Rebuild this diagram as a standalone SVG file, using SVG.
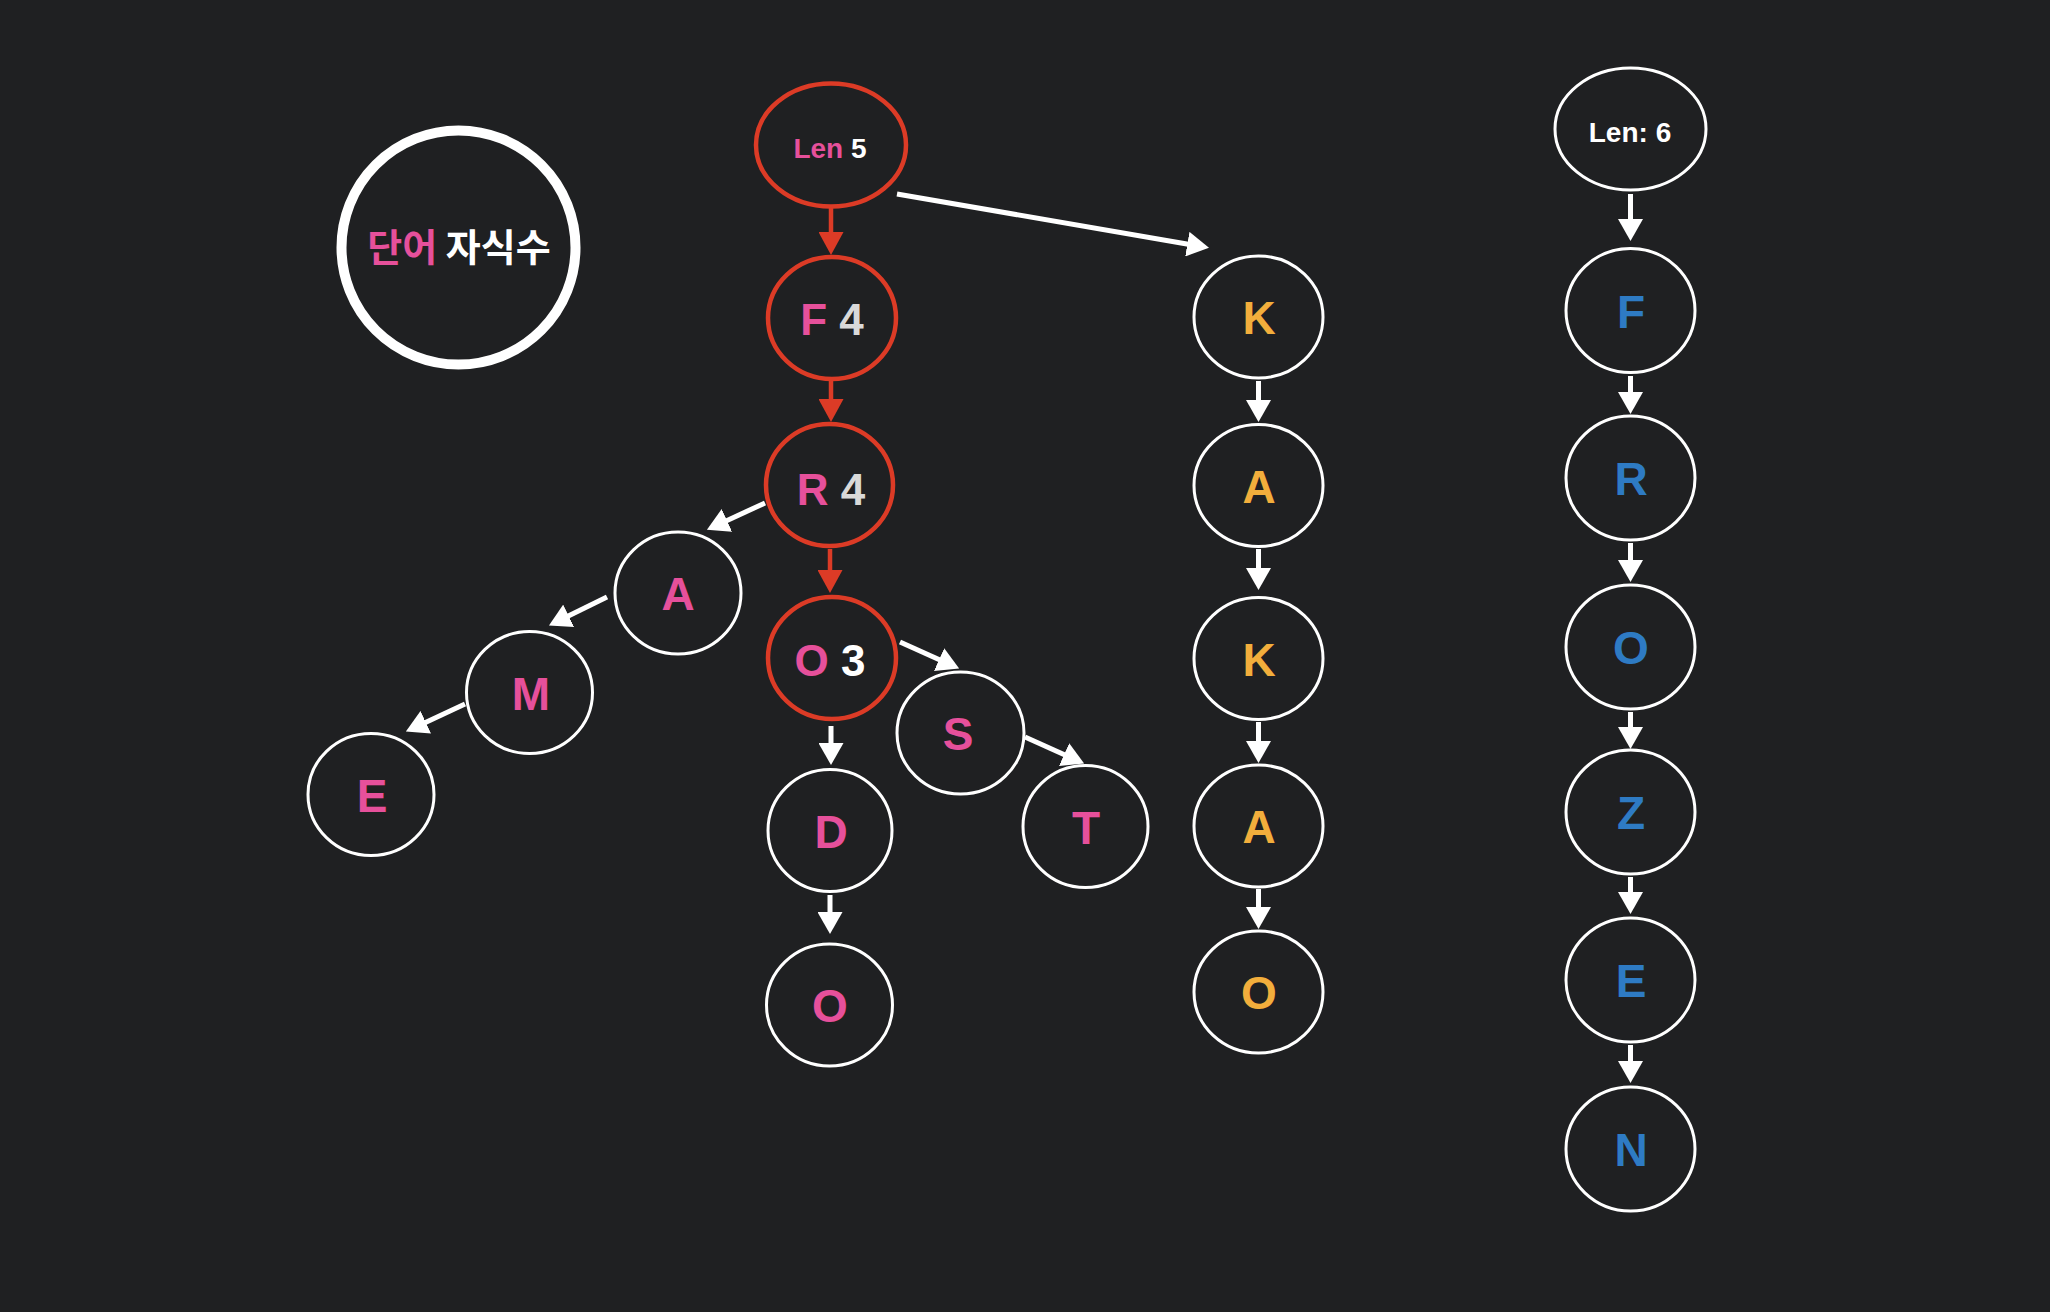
<svg xmlns="http://www.w3.org/2000/svg" width="2050" height="1312" viewBox="0 0 2050 1312">
  <style>
    .n { fill: #1f2022; stroke: #ffffff; stroke-width: 3; }
    .hl { fill: #1f2022; stroke: #dc3b26; stroke-width: 4.5; }
    .t { font-family: "Liberation Sans", Arial, Helvetica, sans-serif; font-weight: bold; font-size: 46px; text-anchor: middle; }
    .t2 { font-family: "Liberation Sans", Arial, Helvetica, sans-serif; font-weight: bold; font-size: 44px; text-anchor: middle; }
    .sm { font-family: "Liberation Sans", Arial, Helvetica, sans-serif; font-weight: bold; font-size: 28px; text-anchor: middle; }
    .pk { fill: #e6509b; }
    .or { fill: #f2ae3c; }
    .bl { fill: #2e7bc4; }
    .wh { fill: #ffffff; }
    .gr { fill: #d9d9d9; }
    .w { stroke: #ffffff; stroke-width: 5; fill: none; marker-end: url(#aw); }
    .r { stroke: #dc3b26; stroke-width: 4.5; fill: none; marker-end: url(#ar); }
  </style>
  <defs>
    <marker id="aw" markerUnits="userSpaceOnUse" viewBox="0 0 22 25" markerWidth="22" markerHeight="25" refX="1" refY="12.5" orient="auto">
      <path d="M0,0 L22,12.5 L0,25 z" fill="#ffffff"/>
    </marker>
    <marker id="ar" markerUnits="userSpaceOnUse" viewBox="0 0 23 25" markerWidth="23" markerHeight="25" refX="1" refY="12.5" orient="auto">
      <path d="M0,0 L23,12.5 L0,25 z" fill="#dc3b26"/>
    </marker>
  </defs>
  <rect x="0" y="0" width="2050" height="1312" fill="#1f2022"/>

  <g id="legend">
    <circle cx="458.5" cy="247.5" r="117" fill="#1f2022" stroke="#ffffff" stroke-width="10"/>
    <text x="459" y="261" font-family="'Noto Sans CJK KR', 'Noto Sans', sans-serif" font-size="38" font-weight="bold" text-anchor="middle"><tspan class="pk">단어</tspan><tspan class="wh"> 자식수</tspan></text>
  </g>

  <g id="connectors">
    <line class="r" x1="831" y1="207" x2="831" y2="233"/>
    <line class="r" x1="831" y1="381" x2="831" y2="400"/>
    <line class="r" x1="830" y1="549" x2="830" y2="571"/>
    <line class="w" x1="897" y1="194" x2="1188.3" y2="244.3"/>
    <line class="w" x1="765" y1="503" x2="726" y2="520.9"/>
    <line class="w" x1="607" y1="597" x2="567.8" y2="616.3"/>
    <line class="w" x1="465" y1="704" x2="424.9" y2="722.7"/>
    <line class="w" x1="900" y1="642" x2="940" y2="660"/>
    <line class="w" x1="1025" y1="737" x2="1065" y2="755"/>
    <line class="w" x1="831" y1="726" x2="831" y2="744"/>
    <line class="w" x1="830" y1="895" x2="830" y2="913"/>
    <line class="w" x1="1258.5" y1="381" x2="1258.5" y2="401"/>
    <line class="w" x1="1258.5" y1="549" x2="1258.5" y2="569"/>
    <line class="w" x1="1258.5" y1="722" x2="1258.5" y2="742"/>
    <line class="w" x1="1258.5" y1="889" x2="1258.5" y2="908"/>
    <line class="w" x1="1630.5" y1="194" x2="1630.5" y2="220"/>
    <line class="w" x1="1630.5" y1="376" x2="1630.5" y2="393"/>
    <line class="w" x1="1630.5" y1="543" x2="1630.5" y2="561"/>
    <line class="w" x1="1630.5" y1="712" x2="1630.5" y2="728"/>
    <line class="w" x1="1630.5" y1="877" x2="1630.5" y2="893"/>
    <line class="w" x1="1630.5" y1="1045" x2="1630.5" y2="1062"/>
  </g>

  <g id="n-len5">
    <ellipse class="hl" cx="831" cy="145" rx="75" ry="61.5"/>
    <text class="sm" x="830" y="158"><tspan class="pk">Len</tspan><tspan class="wh"> 5</tspan></text>
  </g>
  <g id="n-f4">
    <ellipse class="hl" cx="832" cy="318" rx="64" ry="61"/>
    <text class="t2" x="832" y="335"><tspan class="pk">F</tspan><tspan class="gr"> 4</tspan></text>
  </g>
  <g id="n-r4">
    <ellipse class="hl" cx="829.5" cy="485" rx="63.5" ry="61"/>
    <text class="t2" x="831" y="505"><tspan class="pk">R</tspan><tspan class="gr"> 4</tspan></text>
  </g>
  <g id="n-o3">
    <ellipse class="hl" cx="832" cy="658" rx="64" ry="61"/>
    <text class="t2" x="830" y="676"><tspan class="pk">O</tspan><tspan class="wh"> 3</tspan></text>
  </g>
  <g id="n-a">
    <ellipse class="n" cx="678" cy="593" rx="63" ry="61"/>
    <text class="t pk" x="678" y="610">A</text>
  </g>
  <g id="n-m">
    <ellipse class="n" cx="529.5" cy="692.5" rx="63" ry="61"/>
    <text class="t pk" x="531" y="710">M</text>
  </g>
  <g id="n-e">
    <ellipse class="n" cx="371" cy="794.5" rx="63" ry="61"/>
    <text class="t pk" x="372" y="812">E</text>
  </g>
  <g id="n-s">
    <ellipse class="n" cx="960.5" cy="733" rx="63.5" ry="61"/>
    <text class="t pk" x="958" y="750">S</text>
  </g>
  <g id="n-t">
    <ellipse class="n" cx="1085.5" cy="826.5" rx="62.5" ry="61"/>
    <text class="t pk" x="1086" y="844">T</text>
  </g>
  <g id="n-d">
    <ellipse class="n" cx="830" cy="830.5" rx="62" ry="61"/>
    <text class="t pk" x="831" y="848">D</text>
  </g>
  <g id="n-o">
    <ellipse class="n" cx="829.5" cy="1005" rx="63" ry="61"/>
    <text class="t pk" x="830" y="1022">O</text>
  </g>

  <g id="n-k1">
    <ellipse class="n" cx="1258.5" cy="317" rx="64.5" ry="61"/>
    <text class="t or" x="1259" y="334">K</text>
  </g>
  <g id="n-a1">
    <ellipse class="n" cx="1258.5" cy="485.5" rx="64.5" ry="61"/>
    <text class="t or" x="1259" y="503">A</text>
  </g>
  <g id="n-k2">
    <ellipse class="n" cx="1258.5" cy="658.5" rx="64.5" ry="61"/>
    <text class="t or" x="1259" y="676">K</text>
  </g>
  <g id="n-a2">
    <ellipse class="n" cx="1258.5" cy="826" rx="64.5" ry="61"/>
    <text class="t or" x="1259" y="843">A</text>
  </g>
  <g id="n-o4">
    <ellipse class="n" cx="1258.5" cy="992" rx="64.5" ry="61"/>
    <text class="t or" x="1259" y="1009">O</text>
  </g>

  <g id="n-len6">
    <ellipse class="n" cx="1630.5" cy="129" rx="75.5" ry="61"/>
    <text class="sm wh" x="1630" y="142">Len: 6</text>
  </g>
  <g id="n-f">
    <ellipse class="n" cx="1630.5" cy="310.5" rx="64.5" ry="62"/>
    <text class="t bl" x="1631" y="328">F</text>
  </g>
  <g id="n-r">
    <ellipse class="n" cx="1630.5" cy="478" rx="64.5" ry="62"/>
    <text class="t bl" x="1631" y="495">R</text>
  </g>
  <g id="n-o5">
    <ellipse class="n" cx="1630.5" cy="647" rx="64.5" ry="62"/>
    <text class="t bl" x="1631" y="664">O</text>
  </g>
  <g id="n-z">
    <ellipse class="n" cx="1630.5" cy="812" rx="64.5" ry="62"/>
    <text class="t bl" x="1631" y="829">Z</text>
  </g>
  <g id="n-e2">
    <ellipse class="n" cx="1630.5" cy="980" rx="64.5" ry="62"/>
    <text class="t bl" x="1631" y="997">E</text>
  </g>
  <g id="n-n">
    <ellipse class="n" cx="1630.5" cy="1149" rx="64.5" ry="62"/>
    <text class="t bl" x="1631" y="1166">N</text>
  </g>
</svg>
